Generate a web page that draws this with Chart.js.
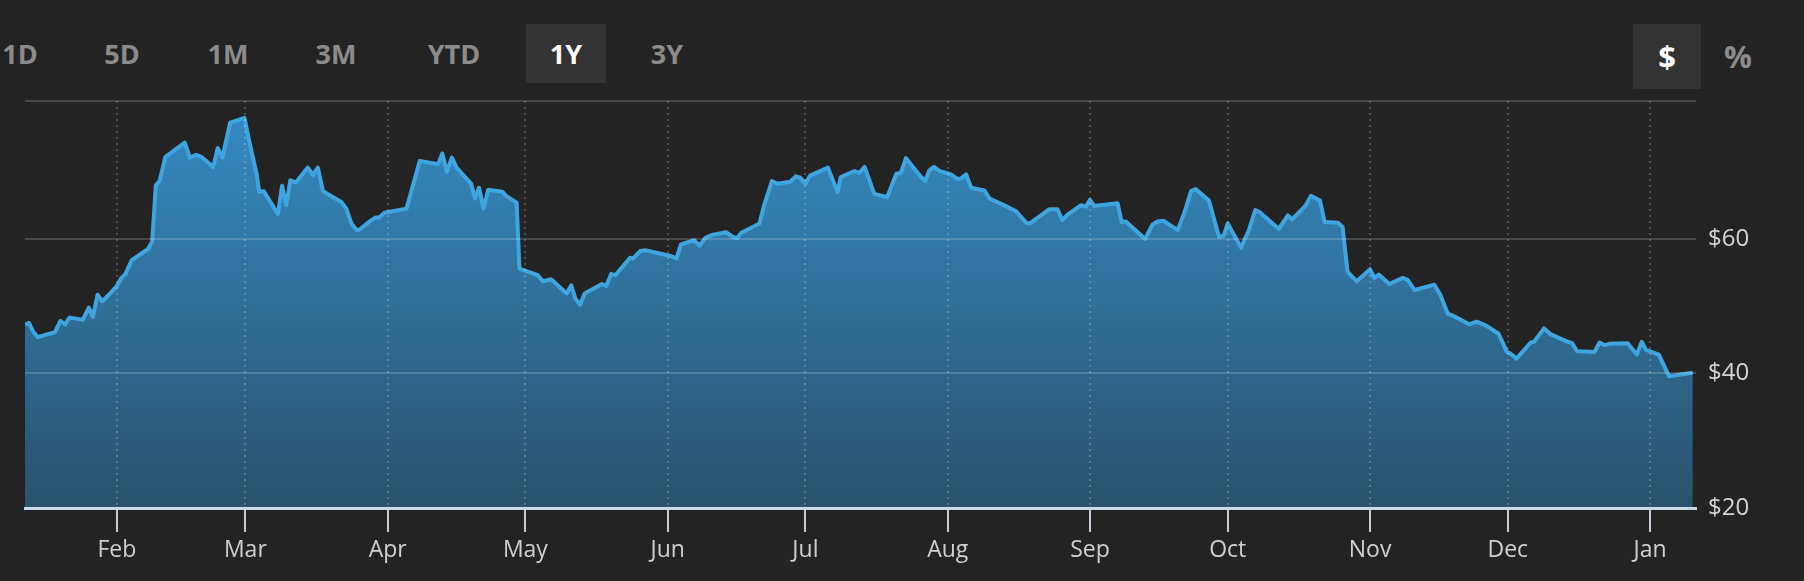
<!DOCTYPE html>
<html>
<head>
<meta charset="utf-8">
<script src="https://cdn.jsdelivr.net/npm/chart.js@4.4.1/dist/chart.umd.min.js"></script>
<style>
  html, body { margin: 0; padding: 0; background: #232323; }
  body { width: 1804px; height: 581px; position: relative; overflow: hidden; font-family: 'Open Sans', 'Noto Sans', sans-serif; }
  #priceChart { position: absolute; left: 0; top: 0; }
  .btn { position: absolute; top: 24px; width: 80px; height: 59px; line-height: 59px; text-align: center; color: #8b8b8b; font-weight: 700; font-size: 27px; }
  .btn.active { background: #333333; color: #ffffff; }
  .unit { width: 68px; height: 65px; line-height: 65px; font-size: 31px; }
</style>
</head>
<body>
<div class="btn" style="left:-20px">1D</div>
<div class="btn" style="left:82px">5D</div>
<div class="btn" style="left:188px">1M</div>
<div class="btn" style="left:296px">3M</div>
<div class="btn" style="left:414px">YTD</div>
<div class="btn active" style="left:526px">1Y</div>
<div class="btn" style="left:627px">3Y</div>
<div class="btn unit active" style="left:1633px">$</div>
<div class="btn unit" style="left:1704px">%</div>
<canvas id="priceChart" width="1804" height="581"></canvas>
<script>
// Price history, one year (x = days since Jan 12)
const days = [
  0, 0.9, 1.8, 2.8, 4.7, 6.5, 7.7, 8.7, 9.7, 12.6, 13.9, 14.8, 15.8, 16.8, 18.4, 19.9,
  21.0, 21.9, 23.2, 26.8, 27.7, 28.5, 29.3, 30.6, 34.8, 35.9, 37.3, 38.4, 41.0, 42.0, 43.0, 44.7,
  47.8, 48.9, 50.5, 51.0, 52.0, 55.1, 56.0, 56.9, 57.8, 59.0, 61.6, 62.7, 63.8, 64.9, 66.4, 68.9,
  70.0, 71.1, 72.3, 72.9, 75.1, 76.4, 77.2, 78.3, 83.1, 86.0, 90.0, 90.9, 91.9, 93.0, 94.0, 97.2,
  98.0, 98.9, 99.9, 100.9, 104.0, 104.8, 107.1, 107.7, 111.7, 112.8, 114.6, 118.0, 119.0, 119.9, 120.9, 121.9,
  125.7, 126.6, 127.7, 128.6, 131.8, 132.5, 134.0, 135.3, 140.4, 141.9, 142.9, 145.8, 146.9, 148.3, 149.7, 152.7,
  154.2, 155.1, 156.0, 157.1, 160.0, 161.0, 162.7, 163.9, 166.7, 167.9, 168.9, 170.0, 171.0, 174.9, 176.0, 177.0,
  177.7, 180.7, 181.7, 182.9, 185.0, 187.8, 189.8, 190.8, 191.9, 195.2, 196.1, 197.0, 198.0, 199.2, 201.7, 203.2,
  203.9, 205.0, 206.1, 209.0, 210.1, 213.0, 215.9, 218.1, 218.9, 223.1, 224.9, 226.0, 227.1, 230.0, 231.1, 232.0,
  232.9, 238.0, 238.9, 239.8, 244.0, 245.6, 246.7, 248.0, 251.1, 252.6, 254.0, 255.0, 257.9, 260.1, 261.1, 262.0,
  264.9, 266.6, 268.0, 268.9, 273.1, 275.1, 276.0, 279.0, 280.1, 282.1, 283.1, 286.0, 287.0, 288.1, 290.1, 293.0,
  293.9, 294.9, 297.2, 300.1, 301.2, 302.7, 307.0, 308.3, 309.9, 311.0, 314.6, 316.2, 318.3, 321.0, 322.8, 323.5,
  324.9, 328.0, 328.7, 330.9, 332.4, 335.7, 337.0, 338.1, 341.9, 343.0, 344.1, 345.1, 349.1, 351.1, 352.2, 353.1,
  355.9, 358.1, 363.3
];
const prices = [
  47.3, 47.5, 46.2, 45.4, 45.8, 46.1, 47.8, 47.3, 48.3, 48.0, 49.8, 48.4, 51.7, 50.7, 51.8, 52.9,
  54.2, 54.8, 56.8, 58.5, 59.6, 68.0, 68.6, 72.2, 74.3, 72.1, 72.5, 72.2, 70.7, 73.5, 72.1, 77.3,
  78.0, 74.4, 69.5, 67.0, 67.1, 63.7, 67.9, 65.0, 68.7, 68.4, 70.6, 69.5, 70.6, 67.1, 66.5, 65.5,
  64.5, 62.3, 61.3, 61.4, 62.6, 63.2, 63.2, 63.9, 64.5, 71.6, 71.1, 72.7, 70.0, 72.1, 70.6, 68.2,
  66.0, 67.6, 64.5, 67.3, 67.0, 66.4, 65.4, 55.6, 54.6, 53.7, 54.0, 51.9, 53.1, 51.1, 50.2, 51.9,
  53.3, 53.0, 54.8, 54.6, 57.2, 57.1, 58.2, 58.3, 57.5, 57.1, 59.2, 59.8, 59.0, 60.2, 60.6, 61.0,
  60.3, 60.1, 60.9, 61.3, 62.3, 65.0, 68.6, 68.2, 68.5, 69.3, 69.1, 68.2, 69.4, 70.6, 68.7, 67.0,
  69.2, 70.1, 69.8, 70.7, 66.7, 66.2, 69.7, 69.8, 72.0, 69.2, 68.6, 70.2, 70.7, 70.1, 69.6, 68.9,
  69.0, 69.6, 67.6, 67.2, 66.0, 65.1, 64.1, 62.4, 62.3, 64.4, 64.4, 62.8, 63.6, 65.0, 64.8, 65.8,
  64.9, 65.3, 62.5, 62.6, 60.0, 62.1, 62.6, 62.7, 61.3, 64.0, 67.1, 67.4, 65.7, 60.3, 60.5, 62.3,
  58.7, 61.3, 64.3, 64.0, 61.5, 63.5, 62.9, 65.0, 66.4, 65.7, 62.5, 62.4, 61.8, 55.1, 53.7, 55.5,
  54.2, 54.7, 53.3, 54.2, 53.9, 52.4, 53.2, 51.7, 48.9, 48.6, 47.3, 47.7, 47.1, 45.9, 43.2, 43.0,
  42.2, 44.6, 44.7, 46.7, 45.8, 44.8, 44.5, 43.3, 43.2, 44.6, 44.2, 44.4, 44.5, 42.8, 44.7, 43.5,
  42.8, 39.6, 40.1
];

// Axis ticks
const monthDays = [20, 48, 79, 109, 140, 170, 201, 232, 262, 293, 323, 354];
const monthLabels = ['Feb', 'Mar', 'Apr', 'May', 'Jun', 'Jul', 'Aug', 'Sep', 'Oct', 'Nov', 'Dec', 'Jan'];
const priceTicks = [20, 40, 60];
const priceMin = 20;
const priceMax = 80.5;
const lastDay = 364;

const ctx = document.getElementById('priceChart');

new Chart(ctx, {
  type: 'line',
  data: {
    datasets: [{
      data: days.map((d, i) => ({ x: d, y: prices[i] })),
      borderColor: '#3fa5e1',
      borderWidth: 4,
      borderJoinStyle: 'round',
      pointRadius: 0,
      tension: 0,
      fill: 'start',
      backgroundColor: function (context) {
        const area = context.chart.chartArea;
        if (!area) return null;
        const g = context.chart.ctx.createLinearGradient(0, area.top, 0, area.bottom);
        g.addColorStop(0, 'rgb(53, 140, 196)');
        g.addColorStop(1, 'rgb(41, 82, 108)');
        return g;
      }
    }]
  },
  options: {
    responsive: false,
    animation: false,
    layout: { padding: { left: 25, top: 101, right: 0, bottom: 0 } },
    plugins: {
      legend: { display: false },
      tooltip: { enabled: false }
    },
    scales: {
      x: {
        type: 'linear',
        min: 0,
        max: lastDay,
        afterBuildTicks: function (scale) {
          scale.ticks = monthDays.map(v => ({ value: v }));
        },
        afterFit: function (scale) { scale.height = 73; },
        ticks: {
          autoSkip: false,
          maxRotation: 0,
          color: '#d0d0d0',
          padding: 5,
          font: { family: "'Open Sans', 'Noto Sans', sans-serif", size: 23 },
          callback: function (value, index) { return monthLabels[index]; }
        },
        grid: {
          color: 'rgba(255, 255, 255, 0.2)',
          lineWidth: 2,
          z: 1,
          drawTicks: true,
          tickLength: 24,
          tickColor: '#c4ced8',
          tickWidth: 2,
          tickBorderDash: []
        },
        border: { display: true, color: '#c3d3e2', width: 3, z: 1, dash: [2, 4] }
      },
      y: {
        position: 'right',
        min: priceMin,
        max: priceMax,
        afterBuildTicks: function (scale) {
          scale.ticks = priceTicks.concat([priceMax]).map(v => ({ value: v }));
        },
        afterFit: function (scale) { scale.width = 108; },
        ticks: {
          color: '#d4d4d4',
          padding: 12,
          font: { family: "'Open Sans', 'Noto Sans', sans-serif", size: 24 },
          callback: function (value) { return priceTicks.includes(value) ? '$' + value : ''; }
        },
        grid: {
          color: 'rgba(255, 255, 255, 0.17)',
          lineWidth: 2,
          z: 1,
          drawTicks: false
        },
        border: { display: false }
      }
    }
  }
});
</script>
</body>
</html>
